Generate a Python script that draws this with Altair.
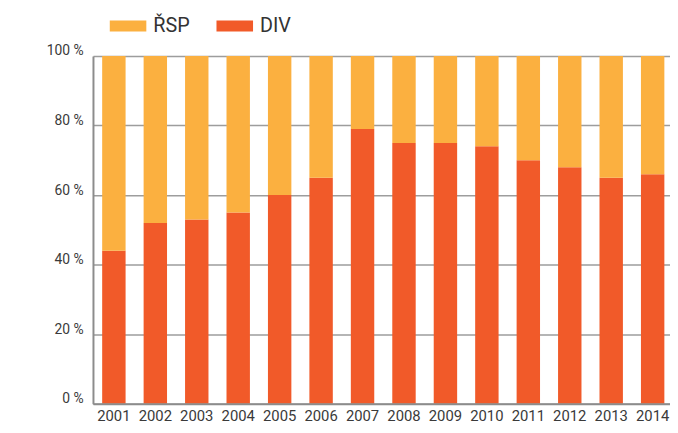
import altair as alt
import pandas as pd

years = ["2001", "2002", "2003", "2004", "2005", "2006", "2007",
         "2008", "2009", "2010", "2011", "2012", "2013", "2014"]
div = [44, 52, 53, 55, 60, 65, 79, 75, 75, 74, 70, 68, 65, 66]
rsp = [56, 48, 47, 45, 40, 35, 21, 25, 25, 26, 30, 32, 35, 34]
series = ["ŘSP", "DIV"]
colors = ["#FBB040", "#F15A29"]
y_ticks = [0, 20, 40, 60, 80, 100]

rows = []
for i, yr in enumerate(years):
    rows.append({"year": yr, "series": "DIV", "value": div[i], "order": 0})
    rows.append({"year": yr, "series": "ŘSP", "value": rsp[i], "order": 1})
df = pd.DataFrame(rows)

FONT = "Roboto"

chart = alt.Chart(df).mark_bar().encode(
    x=alt.X("year:N", sort=years,
            scale=alt.Scale(paddingInner=0.435, paddingOuter=0.179, align=0.62),
            axis=alt.Axis(title=None, labelAngle=0, labelFont=FONT, labelFontSize=15,
                          labelColor="#3a3a3a", labelPadding=5, ticks=False, grid=False,
                          domainColor="#8c8c8c", domainWidth=2, zindex=1)),
    y=alt.Y("value:Q", stack="zero",
            scale=alt.Scale(domain=[0, 100], nice=False),
            axis=alt.Axis(title=None, values=y_ticks, labelExpr="datum.value + ' %'",
                          labelFont=FONT, labelFontSize=14, labelColor="#3a3a3a",
                          labelPadding=10, labelBaseline="alphabetic", labelOffset=-1,
                          ticks=False, grid=True, gridColor="#9d9d9d", gridWidth=1.5,
                          domainColor="#8c8c8c", domainWidth=2)),
    color=alt.Color("series:N", scale=alt.Scale(domain=series, range=colors),
                    legend=alt.Legend(title=None, orient="none", legendX=17, legendY=-49,
                                      direction="horizontal",
                                      symbolType="M-1,-0.3L1,-0.3L1,0.3L-1,0.3Z",
                                      symbolSize=1369, symbolStrokeWidth=0,
                                      labelFont=FONT, labelFontSize=20, labelColor="#333333",
                                      labelOffset=7, columnPadding=27, padding=0)),
    order=alt.Order("order:Q", sort="ascending"),
).properties(
    width=584, height=352,
    autosize=alt.AutoSizeParams(type="none"),
    padding={"left": 86, "top": 46, "right": 0, "bottom": 19},
).configure_view(stroke=None)

chart.save("out.html", embed_options={"renderer": "svg", "actions": False})
